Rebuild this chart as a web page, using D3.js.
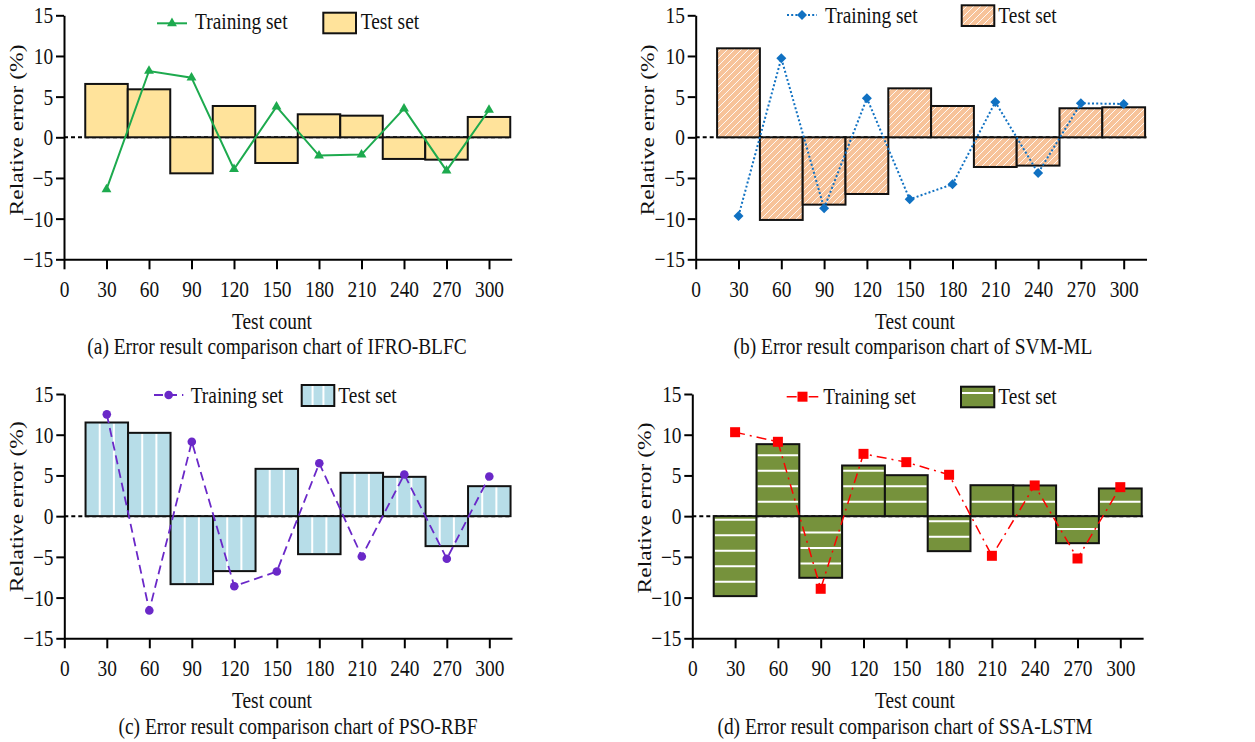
<!DOCTYPE html>
<html>
<head>
<meta charset="utf-8">
<script src="https://cdn.jsdelivr.net/npm/d3@7"></script>
<style>
  body { margin: 0; background: #fff; }
  svg { display: block; }
  text { font-family: "Liberation Serif", "Times New Roman", serif; fill: #111; }
</style>
</head>
<body>
<svg id="chart" width="1255" height="742"></svg>
<script>
// data
const testCounts = [30, 60, 90, 120, 150, 180, 210, 240, 270, 300];
const xTicks = [0, 30, 60, 90, 120, 150, 180, 210, 240, 270, 300];
const yTicks = [-15, -10, -5, 0, 5, 10, 15];

const ifroTrain = [-6.4, 8.15, 7.33, -3.93, 3.77, -2.25, -2.13, 3.52, -4.1, 3.36];
const ifroTest = [6.56, 5.9, -4.43, 3.85, -3.16, 2.83, 2.66, -2.66, -2.75, 2.5];

const svmTrain = [-9.67, 9.71, -8.73, 4.8, -7.62, -5.78, 4.34, -4.39, 4.18, 4.1];
const svmTest = [10.94, -10.16, -8.28, -6.97, 6.02, 3.85, -3.65, -3.48, 3.57, 3.69];

const psoTrain = [12.5, -11.58, 9.13, -8.6, -6.8, 6.5, -4.95, 5.12, -5.24, 4.87];
const psoTest = [11.5, 10.23, -8.35, -6.75, 5.81, -4.67, 5.32, 4.83, -3.68, 3.68];

const ssaTrain = [10.31, 9.13, -8.92, 7.65, 6.63, 5.08, -4.87, 3.77, -5.2, 3.56];
const ssaTest = [-9.82, 8.84, -7.57, 6.22, 5.03, -4.3, 3.8, 3.77, -3.32, 3.4];

const captions = [
  "(a) Error result comparison chart of IFRO-BLFC",
  "(b) Error result comparison chart of SVM-ML",
  "(c) Error result comparison chart of PSO-RBF",
  "(d) Error result comparison chart of SSA-LSTM"
];

const FS = 23.5;   // font size
const SQ = 0.826;  // the figure's text is squeezed horizontally

const svg = d3.select("#chart");
const defs = svg.append("defs");

// diagonal hatch for panel (b)
const hatch = defs.append("pattern")
  .attr("id", "hatchB")
  .attr("patternUnits", "userSpaceOnUse")
  .attr("width", 7)
  .attr("height", 7);
hatch.append("rect").attr("width", 7).attr("height", 7).attr("fill", "#F7C39A");
hatch.append("path")
  .attr("d", "M-1,1 L1,-1 M0,7 L7,0 M6,8 L8,6")
  .attr("stroke", "#fff")
  .attr("stroke-width", 0.9);

const panels = [
  {
    train: ifroTrain, test: ifroTest, caption: captions[0],
    ox: 64, per30: 42.5, yTop: 15.3, yBot: 259.3,
    color: "#1DAA4E", dash: null, width: 2, marker: "triangle",
    fill: "#FFE39B", deco: null,
    ylab: { x: 23, y: 130 }, xlab: { x: 272, y: 328.5 }, cap: { x: 277, y: 354 },
    leg: { l1: 157, l2: 187, ly: 23.3, t1: 195, b1: 323.3, b2: 356, by1: 12.7, by2: 33.3, t2: 360.7, base: 29.3 }
  },
  {
    train: svmTrain, test: svmTest, caption: captions[1],
    ox: 695.7, per30: 42.8, yTop: 15.3, yBot: 259.3,
    color: "#1071C2", dash: "2,2.2", width: 2, marker: "diamond",
    fill: "url(#hatchB)", deco: null,
    ylab: { x: 653.7, y: 130 }, xlab: { x: 915, y: 328.5 }, cap: { x: 913, y: 354 },
    leg: { l1: 787, l2: 817, ly: 15, t1: 825, b1: 961.7, b2: 994.3, by1: 5.3, by2: 26, t2: 998.3, base: 22.7 }
  },
  {
    train: psoTrain, test: psoTest, caption: captions[2],
    ox: 64.3, per30: 42.5, yTop: 394, yBot: 638.3,
    color: "#6A28C8", dash: "9,5", width: 1.8, marker: "circle",
    fill: "#B7DDE8", deco: "vertical",
    ylab: { x: 23, y: 506.7 }, xlab: { x: 272, y: 708 }, cap: { x: 298, y: 733.5 },
    leg: { l1: 154, l2: 183.3, ly: 395, t1: 190.7, b1: 301.7, b2: 334.3, by1: 385, by2: 406, t2: 338.3, base: 402.7 }
  },
  {
    train: ssaTrain, test: ssaTest, caption: captions[3],
    ox: 692.3, per30: 42.8, yTop: 394, yBot: 638.3,
    color: "#FF0000", dash: "10,5,2,5", width: 1.5, marker: "square",
    fill: "#76923C", deco: "horizontal",
    ylab: { x: 651, y: 508 }, xlab: { x: 915, y: 708 }, cap: { x: 905, y: 733.5 },
    leg: { l1: 786.7, l2: 818.3, ly: 396.7, t1: 823.3, b1: 961, b2: 994.3, by1: 386.7, by2: 407.3, t2: 998.3, base: 404.3 }
  }
];

function squishText(parent, x, y, str, anchor) {
  parent.append("text")
    .attr("transform", `translate(${x},${y}) scale(${SQ},1)`)
    .attr("text-anchor", anchor || "start")
    .style("font-size", FS + "px")
    .text(str);
}

function drawMarker(g, type, cx, cy, color) {
  if (type === "circle") {
    g.append("circle").attr("cx", cx).attr("cy", cy).attr("r", 4.3).attr("fill", color);
    return;
  }
  const sym = {
    triangle: d3.symbol(d3.symbolTriangle, 42),
    diamond: d3.symbol(d3.symbolSquare, 50),
    square: d3.symbol(d3.symbolSquare, 100)
  }[type];
  const rot = type === "diamond" ? " rotate(45)" : "";
  g.append("path")
    .attr("d", sym())
    .attr("transform", `translate(${cx},${cy})${rot}`)
    .attr("fill", color);
}

// white stripes inside a box (bar or legend swatch)
function drawDeco(g, type, x0, x1, yTopPx, yBotPx) {
  if (type === "vertical") {
    const w = x1 - x0;
    [w / 3, 2 * w / 3].forEach((dx) => {
      g.append("line")
        .attr("x1", x0 + dx).attr("x2", x0 + dx)
        .attr("y1", yTopPx + 1).attr("y2", yBotPx - 1)
        .attr("stroke", "#fff").attr("stroke-width", 2);
    });
  } else if (type === "horizontal") {
    for (let yy = yBotPx - 14.3; yy > yTopPx + 2; yy -= 15.5) {
      g.append("line")
        .attr("x1", x0 + 1).attr("x2", x1 - 1)
        .attr("y1", yy).attr("y2", yy)
        .attr("stroke", "#fff").attr("stroke-width", 2);
    }
  }
}

function drawPanel(p) {
  const xMax = 316;
  const x = d3.scaleLinear().domain([0, xMax]).range([p.ox, p.ox + (xMax * p.per30) / 30]);
  const y = d3.scaleLinear().domain([-15, 15]).range([p.yBot, p.yTop]);
  const g = svg.append("g");

  const rows = testCounts.map((c, i) => ({ c: c, v: p.test[i], t: p.train[i] }));

  // zero reference line
  g.append("line")
    .attr("x1", x(0)).attr("x2", x(xMax))
    .attr("y1", y(0)).attr("y2", y(0))
    .attr("stroke", "#000")
    .attr("stroke-width", 2)
    .attr("stroke-dasharray", "4,3");

  // test set bars
  const bars = g.append("g");
  rows.forEach((d) => {
    const x0 = x(d.c - 15), x1 = x(d.c + 15);
    const top = Math.min(y(d.v), y(0)), bot = Math.max(y(d.v), y(0));
    bars.append("rect")
      .attr("x", x0).attr("y", top)
      .attr("width", x1 - x0).attr("height", bot - top)
      .attr("fill", p.fill);
    drawDeco(bars, p.deco, x0, x1, top, bot);
    bars.append("rect")
      .attr("x", x0).attr("y", top)
      .attr("width", x1 - x0).attr("height", bot - top)
      .attr("fill", "none")
      .attr("stroke", "#111")
      .attr("stroke-width", 2);
  });

  // training set line
  const line = d3.line().x((d) => x(d.c)).y((d) => y(d.t));
  g.append("path")
    .datum(rows)
    .attr("d", line)
    .attr("fill", "none")
    .attr("stroke", p.color)
    .attr("stroke-width", p.width)
    .attr("stroke-dasharray", p.dash);
  rows.forEach((d) => drawMarker(g, p.marker, x(d.c), y(d.t), p.color));

  // axes
  const xAxis = d3.axisBottom(x).tickValues(xTicks).tickSize(10).tickSizeOuter(0).tickPadding(11);
  const yAxis = d3.axisLeft(y).tickValues(yTicks).tickSize(8).tickSizeOuter(0).tickPadding(5);

  const gx = g.append("g").attr("transform", `translate(0,${y(-15)})`).call(xAxis);
  const gy = g.append("g").attr("transform", `translate(${x(0)},0)`).call(yAxis);
  [gx, gy].forEach((a) => {
    a.select(".domain").attr("stroke", "#000").attr("stroke-width", 2);
    a.selectAll(".tick line").attr("stroke", "#000").attr("stroke-width", 2);
    a.selectAll(".tick text")
      .attr("fill", "#111")
      .style("font-family", "'Liberation Serif', 'Times New Roman', serif")
      .style("font-size", FS + "px")
      .attr("transform", `scale(${SQ},1)`);
  });

  // axis titles and caption
  g.append("text")
    .attr("transform", `translate(${p.ylab.x},${p.ylab.y}) scale(${SQ},1) rotate(-90)`)
    .attr("text-anchor", "middle")
    .style("font-size", FS + "px")
    .text("Relative error (%)");
  squishText(g, p.xlab.x, p.xlab.y, "Test count", "middle");
  squishText(g, p.cap.x, p.cap.y, p.caption, "middle");

  // legend
  const L = p.leg;
  g.append("line")
    .attr("x1", L.l1).attr("x2", L.l2)
    .attr("y1", L.ly).attr("y2", L.ly)
    .attr("stroke", p.color)
    .attr("stroke-width", p.width)
    .attr("stroke-dasharray", p.dash);
  drawMarker(g, p.marker, (L.l1 + L.l2) / 2, L.ly, p.color);
  squishText(g, L.t1, L.base, "Training set");

  g.append("rect")
    .attr("x", L.b1).attr("y", L.by1)
    .attr("width", L.b2 - L.b1).attr("height", L.by2 - L.by1)
    .attr("fill", p.fill);
  drawDeco(g, p.deco, L.b1, L.b2, L.by1, L.by2);
  g.append("rect")
    .attr("x", L.b1).attr("y", L.by1)
    .attr("width", L.b2 - L.b1).attr("height", L.by2 - L.by1)
    .attr("fill", "none")
    .attr("stroke", "#111")
    .attr("stroke-width", 2);
  squishText(g, L.t2, L.base, "Test set");
}

panels.forEach(drawPanel);
</script>
</body>
</html>
